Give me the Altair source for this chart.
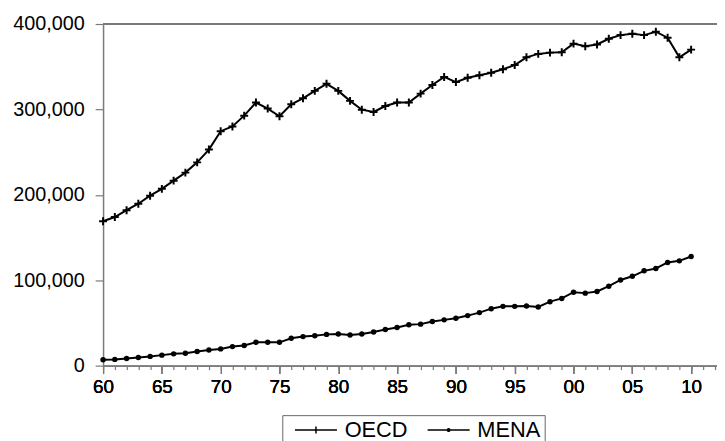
import altair as alt
import pandas as pd

years = list(range(1960, 2011))
oecd = [169000, 174000, 182000, 189600, 199000, 207000, 216600, 226000, 238000, 253000,
        274500, 280000, 292700, 308000, 301000, 292000, 306000, 313000, 321700, 330000,
        321700, 310000, 299700, 297000, 304000, 308000, 308000, 318500, 328600, 338000,
        332000, 337000, 340000, 343000, 347000, 352000, 361000, 365000, 366500, 367000,
        377000, 374000, 376000, 382700, 387000, 388500, 387000, 391000, 384000, 361000, 370000]
mena = [6800, 7300, 8400, 9600, 10800, 12300, 13800, 14600, 16600, 18400,
        19600, 22300, 23500, 27300, 27300, 27300, 32000, 34000, 35000, 36600,
        37000, 35800, 37000, 39300, 42400, 44700, 47900, 48600, 51700, 53600,
        55500, 58600, 62100, 66700, 69400, 69400, 69900, 68700, 74900, 78700,
        86000, 84900, 86800, 93000, 100300, 104600, 111000, 113800, 120800, 122700, 127800]
series_names = ["OECD", "MENA"]
major_ticks = list(range(1960, 2011, 5))
minor_ticks = list(range(1960, 2013))
y_ticks = [0, 100000, 200000, 300000, 400000]

rows = []
for name, vals in zip(series_names, [oecd, mena]):
    for yr, v in zip(years, vals):
        rows.append({"year": yr, "series": name, "value": v})
df = pd.DataFrame(rows)

FONT = "Liberation Sans"
AXC = "#7a7a7a"

xscale = alt.Scale(domain=[1960, 2012.2], nice=False, zero=False)
yscale = alt.Scale(domain=[0, 400000], nice=False)

major_axis = alt.Axis(values=major_ticks, labelExpr="slice('0' + (datum.value % 100), -2)",
                      tickSize=8, labelPadding=4, domainColor=AXC, tickColor=AXC, domainWidth=1.5,
                      tickWidth=1.2, labelColor="black", labelFont=FONT, labelFontSize=19,
                      grid=False, title=None, orient="bottom", labelFlush=False)
minor_axis = alt.Axis(values=minor_ticks, labels=False, tickSize=4, tickColor=AXC, tickWidth=1.2,
                      domain=False, grid=False, title=None, orient="bottom")
y_axis = alt.Axis(values=y_ticks, labelExpr="format(datum.value, ',')", tickSize=8, labelPadding=11,
                  domainColor=AXC, tickColor=AXC, domainWidth=1.5, tickWidth=1.2,
                  labelColor="black", labelFont=FONT, labelFontSize=20, grid=False, title=None)

Y = alt.Y("value:Q", scale=yscale, axis=y_axis)

base = alt.Chart(df).encode(
    x=alt.X("year:Q", scale=xscale, axis=major_axis),
    y=Y,
)

lines = base.mark_line(color="black", strokeWidth=2).encode(detail="series:N")
oecd_pts = base.transform_filter(alt.datum.series == "OECD").mark_point(
    shape="M-1,0H1M0,-1V1", size=64, color="black", strokeWidth=2, filled=False, opacity=1)
mena_pts = base.transform_filter(alt.datum.series == "MENA").mark_circle(
    size=30, color="black", opacity=1)

legend_paths = ["M-3,0H3M0,-0.5V0.5",
                "M-3,0H3M-0.18,0A0.18,0.18 0 1,0 0.18,0A0.18,0.18 0 1,0 -0.18,0Z"]
legend_layer = alt.Chart(df).mark_point(filled=False, opacity=0, color="black", strokeWidth=1.5).encode(
    x=alt.X("year:Q", scale=xscale, axis=minor_axis),
    y=Y,
    shape=alt.Shape("series:N", scale=alt.Scale(domain=series_names, range=legend_paths),
                    legend=alt.Legend(title=None, orient="none", legendX=181, legendY=395,
                                      direction="horizontal", strokeColor="#666", padding=4,
                                      symbolOpacity=1, symbolStrokeColor="black",
                                      symbolStrokeWidth=1.5,
                                      symbolSize=200, symbolOffset=19, labelOffset=18,
                                      labelFont=FONT, labelFontSize=22, labelColor="black",
                                      columnPadding=11)),
)

top_rule = alt.Chart(df).mark_rule(color=AXC, strokeWidth=1.5).encode(y=alt.datum(400000, axis=y_axis))

chart = alt.layer(top_rule, lines, oecd_pts, mena_pts, legend_layer).resolve_axis(
    x="independent"
).properties(
    width=620, height=345,
    autosize=alt.AutoSizeParams(type="none"),
    padding={"left": 96, "top": 14, "right": 0, "bottom": 80},
).configure_view(stroke=None).configure(background="white")

chart.save("out.html", embed_options={"renderer": "svg", "actions": False})
